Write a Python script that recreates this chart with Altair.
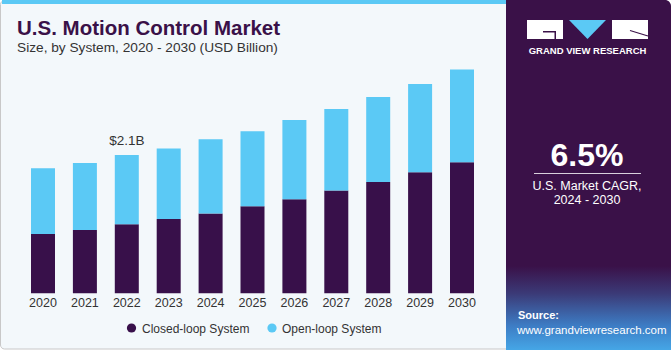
import altair as alt
import pandas as pd

years = [2020, 2021, 2022, 2023, 2024, 2025, 2026, 2027, 2028, 2029, 2030]
closed_loop = [0.90, 0.96, 1.05, 1.13, 1.21, 1.32, 1.43, 1.56, 1.69, 1.84, 1.99]
open_loop = [1.00, 1.02, 1.05, 1.07, 1.13, 1.14, 1.20, 1.24, 1.29, 1.34, 1.41]
systems = ["Closed-loop System", "Open-loop System"]
colors = ["#38104a", "#5bc9f5"]
annot_year = 2022
annot_value = 2.1
annot_text = "$2.1B"

FONT = "Liberation Sans"

rows = []
for i, y in enumerate(years):
    rows.append({"year": y, "system": systems[0], "value": closed_loop[i], "ord": 0})
    rows.append({"year": y, "system": systems[1], "value": open_loop[i], "ord": 1})
df = pd.DataFrame(rows)
df_years = pd.DataFrame({"year": years, "label": [str(y) for y in years]})
one = pd.DataFrame({"a": [0]})

xscale = alt.Scale(domain=[2020, 2030], range=[43, 462], padding=0)
yscale = alt.Scale(domain=[0, 3.4], range=[293.3, 69.4], padding=0)

# Backgrounds
bg_left = alt.Chart(one).mark_rect(
    color="#f3f8fb", stroke="#c8c8c8", strokeWidth=1, cornerRadius=4
).encode(x=alt.value(0.5), x2=alt.value(512), y=alt.value(0.5), y2=alt.value(349))
top_stripe = alt.Chart(one).mark_rect(color="#5bc9f5").encode(
    x=alt.value(2), x2=alt.value(506), y=alt.value(0), y2=alt.value(4)
)
bg_right = alt.Chart(one).mark_rect(
    color=alt.Gradient(
        gradient="linear",
        stops=[
            alt.GradientStop(color="#3a1148", offset=0),
            alt.GradientStop(color="#3a1148", offset=0.76),
            alt.GradientStop(color="#3b3b78", offset=0.84),
            alt.GradientStop(color="#3d7cc4", offset=0.93),
            alt.GradientStop(color="#45a6e6", offset=1),
        ],
        x1=0, x2=0, y1=0, y2=1,
    ),
    cornerRadiusTopRight=6,
).encode(x=alt.value(506), x2=alt.value(671), y=alt.value(0), y2=alt.value(350))

# Logo
logo_g = alt.Chart(one).mark_rect(color="white").encode(
    x=alt.value(527), x2=alt.value(563), y=alt.value(20), y2=alt.value(39)
)
logo_g_notch = alt.Chart(one).mark_rect(color="#3a1148").encode(
    x=alt.value(543), x2=alt.value(556), y=alt.value(31), y2=alt.value(32.5)
)
logo_g_notch2 = alt.Chart(one).mark_rect(color="#3a1148").encode(
    x=alt.value(554.5), x2=alt.value(556), y=alt.value(31), y2=alt.value(39)
)
logo_r = alt.Chart(one).mark_rect(color="white").encode(
    x=alt.value(612), x2=alt.value(648), y=alt.value(20), y2=alt.value(39)
)
logo_r_line = alt.Chart(one).mark_rule(color="#3a1148", strokeWidth=1.2).encode(
    x=alt.value(630), x2=alt.value(648), y=alt.value(30.5), y2=alt.value(36)
)
logo_v = alt.Chart(one).mark_point(
    shape="M-1,-0.52L1,-0.52L0,0.52Z", filled=True, color="#5bc9f5", opacity=1, size=1369
).encode(x=alt.value(587.5), y=alt.value(29.5))
logo_text = alt.Chart(one).mark_text(
    text="GRAND VIEW RESEARCH", color="white", font=FONT, fontWeight="bold",
    fontSize=9.5, align="center", baseline="alphabetic"
).encode(x=alt.value(587.5), y=alt.value(54))

cagr = alt.Chart(one).mark_text(
    text="6.5%", color="white", font=FONT, fontWeight="bold", fontSize=32,
    align="center", baseline="alphabetic"
).encode(x=alt.value(587), y=alt.value(166))
cagr_rule = alt.Chart(one).mark_rule(color="#d8d0dc", strokeWidth=1).encode(
    x=alt.value(534), x2=alt.value(641), y=alt.value(173.5)
)
cagr_t1 = alt.Chart(one).mark_text(
    text="U.S. Market CAGR,", color="white", font=FONT, fontSize=12.5,
    align="center", baseline="alphabetic"
).encode(x=alt.value(587), y=alt.value(190))
cagr_t2 = alt.Chart(one).mark_text(
    text="2024 - 2030", color="white", font=FONT, fontSize=12.5,
    align="center", baseline="alphabetic"
).encode(x=alt.value(587), y=alt.value(204))
src1 = alt.Chart(one).mark_text(
    text="Source:", color="white", font=FONT, fontWeight="bold", fontSize=11,
    align="left", baseline="alphabetic"
).encode(x=alt.value(518), y=alt.value(319))
src2 = alt.Chart(one).mark_text(
    text="www.grandviewresearch.com", color="white", font=FONT, fontSize=11.5,
    align="left", baseline="alphabetic"
).encode(x=alt.value(517), y=alt.value(334))

# Titles
title = alt.Chart(one).mark_text(
    text="U.S. Motion Control Market", color="#3a1148", font=FONT, fontWeight="bold",
    fontSize=20.5, align="left", baseline="alphabetic"
).encode(x=alt.value(17), y=alt.value(35))
subtitle = alt.Chart(one).mark_text(
    text="Size, by System, 2020 - 2030 (USD Billion)", color="#333333", font=FONT,
    fontSize=13.7, align="left", baseline="alphabetic"
).encode(x=alt.value(17), y=alt.value(52))

# Bars
bars = alt.Chart(df).mark_bar(size=24).encode(
    x=alt.X("year:Q", scale=xscale, axis=None),
    y=alt.Y("sum(value):Q", scale=yscale, axis=None, stack="zero"),
    color=alt.Color("system:N", scale=alt.Scale(domain=systems, range=colors), legend=None),
    order=alt.Order("ord:Q", sort="ascending"),
)

year_labels = alt.Chart(df_years).mark_text(
    color="#333333", font=FONT, fontSize=12.5, align="center", baseline="alphabetic"
).encode(x=alt.X("year:Q", scale=xscale, axis=None), y=alt.value(307), text="label:N")

annot = alt.Chart(pd.DataFrame({"year": [annot_year], "v": [annot_value], "t": [annot_text]})).mark_text(
    color="#333333", font=FONT, fontSize=13.5, align="center", baseline="alphabetic", dy=-10
).encode(
    x=alt.X("year:Q", scale=xscale, axis=None),
    y=alt.Y("v:Q", scale=yscale, axis=None),
    text="t:N",
)

# Legend
leg_df = pd.DataFrame({"system": systems, "px": [131.5, 272], "tx": [142, 282]})
leg_pts = alt.Chart(leg_df).mark_point(filled=True, opacity=1, size=85, shape="circle").encode(
    x=alt.X("px:Q", scale=None, axis=None),
    y=alt.value(328),
    color=alt.Color("system:N", scale=alt.Scale(domain=systems, range=colors), legend=None),
)
leg_txt = alt.Chart(leg_df).mark_text(
    color="#333333", font=FONT, fontSize=12, align="left", baseline="alphabetic"
).encode(x=alt.X("tx:Q", scale=None, axis=None), y=alt.value(332.5), text="system:N")

chart = alt.layer(
    bg_left, top_stripe, bg_right,
    logo_g, logo_g_notch, logo_g_notch2, logo_r, logo_r_line, logo_v, logo_text,
    cagr, cagr_rule, cagr_t1, cagr_t2, src1, src2,
    title, subtitle,
    bars, year_labels, annot, leg_pts, leg_txt,
).resolve_scale(x="independent", y="independent", color="shared").properties(
    width=671, height=350, autosize=alt.AutoSizeParams(type="none"), padding=0,
    background="#ffffff",
).configure_view(stroke=None)

chart.save("out.html", embed_options={"renderer": "svg", "actions": False})
